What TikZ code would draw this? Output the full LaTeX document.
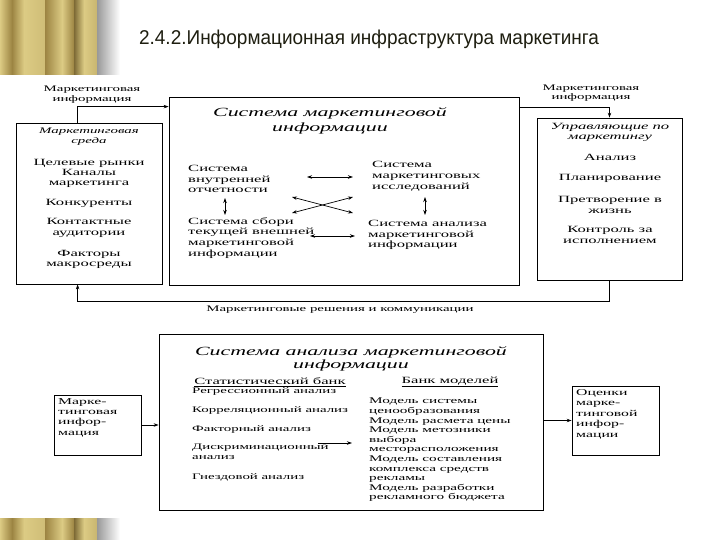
\documentclass[tikz,border=0pt]{standalone}
\usepackage{fontspec}
\setmainfont{Liberation Serif}
\newfontfamily\wf[FakeStretch=1.75]{Liberation Serif}
\newfontfamily\tf[FakeStretch=0.95]{Liberation Sans}
\usetikzlibrary{arrows.meta}
\newcommand\fsz[2]{\fontsize{#1}{#2}\selectfont}
\definecolor{goldL}{HTML}{DCCB84}
\definecolor{goldD}{HTML}{9C8442}
\definecolor{ttl}{HTML}{1E1E10}
\begin{document}
\begin{tikzpicture}[x=1pt,y=-1pt,
  box/.style={draw, line width=0.8pt, inner sep=0, rectangle},
  t/.style={inner sep=0, align=center, font=\wf\fsz{9.5}{10.8}},
  tl/.style={inner sep=0, align=left, anchor=west, font=\wf\fsz{9.5}{10.8}},
  arr/.style={line width=0.7pt, -{Stealth[length=5pt,width=3.5pt]}},
  dbl/.style={line width=0.7pt, {Stealth[length=5pt,width=3.5pt]}-{Stealth[length=5pt,width=3.5pt]}}]
\useasboundingbox (0,0) rectangle (720,540);
\fill[white] (0,0) rectangle (720,540);
% decorative gold bars
\foreach \ya/\yb in {0/75, 518/540}{
  \fill[left color=goldL,right color=goldD] (0,\ya) rectangle (12,\yb);
  \fill[left color=goldD,right color=goldL] (12,\ya) rectangle (24,\yb);
  \fill[left color=goldL,right color=goldL!80!goldD] (24,\ya) rectangle (45,\yb);
  \fill[left color=goldD,right color=goldL] (45,\ya) rectangle (62,\yb);
  \fill[left color=goldL,right color=goldD] (62,\ya) rectangle (74,\yb);
  \fill[left color=goldD!80!black,right color=goldL] (74,\ya) rectangle (84,\yb);
  \fill[left color=goldL,right color=goldL!70!goldD] (84,\ya) rectangle (97,\yb);
  \fill[left color=gray!80,right color=white] (97,\ya) rectangle (120,\yb);
}
% title
\node[inner sep=0, text=ttl, font=\tf\fsz{20}{24}] (title) at (369,39) {2.4.2.Информационная инфраструктура маркетинга};
% boxes
\node[box, minimum width=146pt, minimum height=161pt] (L) at (89,203.5) {};
\node[box, minimum width=350pt, minimum height=188pt] (C) at (344,191) {};
\node[box, minimum width=145pt, minimum height=162pt] (R) at (609.5,199) {};
\node[box, minimum width=384pt, minimum height=176pt] (B) at (351,422) {};
\node[box, minimum width=87pt, minimum height=60pt] (SL) at (97.5,425) {};
\node[box, minimum width=87pt, minimum height=69pt] (SR) at (615.5,420.5) {};
% top labels
\node[t, font=\wf\fsz{8.5}{9.5}] (lblL) at (92,94.5) {Маркетинговая\\информация};
\node[t, font=\wf\fsz{8.5}{9.5}] (lblR) at (591,93) {Маркетинговая\\информация};
\node[t, font=\wf\fsz{8.5}{9.5}] (lblB) at (340,310) {Маркетинговые решения и коммуникации};
% left box content
\node[t, font=\wf\itshape\fsz{8.5}{10}] (L0) at (89,137) {Маркетинговая\\среда};
\node[t] (L1) at (89,163) {Целевые рынки};
\node[t] (L2) at (89,178.5) {Каналы\\маркетинга};
\node[t] (L3) at (89,203) {Конкуренты};
\node[t] (L4) at (89,228) {Контактные\\аудитории};
\node[t] (L5) at (89,259.5) {Факторы\\макросреды};
% central box content
\node[t, font=\wf\itshape\fsz{12.5}{15}] (C0) at (330,120.5) {Система маркетинговой\\информации};
\node[tl] (C1) at (188,179) {Система\\внутренней\\отчетности};
\node[tl] (C2) at (372,176.5) {Система\\маркетинговых\\исследований};
\node[tl] (C3) at (188,238) {Система сбори\\текущей внешней\\маркетинговой\\информации};
\node[tl] (C4) at (368,235) {Система анализа\\маркетинговой\\информации};
\coordinate (a1) at (307,177); \coordinate (a2) at (353,177);
\coordinate (b1) at (225,198); \coordinate (b2) at (225,215);
\coordinate (c1) at (425,197); \coordinate (c2) at (425,215);
\coordinate (d1) at (292,197); \coordinate (d2) at (353,213);
\coordinate (e1) at (292,213); \coordinate (e2) at (353,197);
\coordinate (f1) at (310,236); \coordinate (f2) at (355,236);
\draw[dbl] (a1) -- (a2);
\draw[dbl] (b1) -- (b2);
\draw[dbl] (c1) -- (c2);
\draw[dbl] (d1) -- (d2);
\draw[dbl] (e1) -- (e2);
\draw[dbl] (f1) -- (f2);
% right box content
\node[t, font=\wf\itshape\fsz{9.5}{10}] (R0) at (610,132) {Управляющие по\\маркетингу};
\node[t] (R1) at (610,157) {Анализ};
\node[t] (R2) at (610,178) {Планирование};
\node[t] (R3) at (610,205) {Претворение в\\жизнь};
\node[t] (R4) at (610,235) {Контроль за\\исполнением};
% main connectors
\draw[arr] ([xshift=62pt]L.north west) |- ([yshift=-10pt]C.north west);
\draw[arr] ([yshift=-11pt]C.north east) -| (R.north);
\draw[arr] (R.south) -- ++(0,21) -| ([xshift=62pt]L.south west);
% bottom box content
\node[t, font=\wf\itshape\fsz{12.5}{12.5}] (B0) at (351,359) {Система анализа маркетинговой\\информации};
\node[t] (B1) at (270,382) {\underline{Статистический банк}};
\node[t] (B2) at (450,382) {\underline{Банк моделей}};
\node[tl, font=\wf\fsz{8.5}{10}] (S1) at (192,391) {Регрессионный анализ};
\node[tl, font=\wf\fsz{8.5}{10}] (S2) at (192,410) {Корреляционный анализ};
\node[tl, font=\wf\fsz{8.5}{10}] (S3) at (192,429) {Факторный анализ};
\node[tl, font=\wf\fsz{8.5}{10}] (S4) at (192,452) {Дискриминационный\\анализ};
\node[tl, font=\wf\fsz{8.5}{10}] (S5) at (192,477) {Гнездовой анализ};
\node[tl, font=\wf\fsz{8.7}{9.6}] (M) at (369,450) {Модель системы\\ценообразования\\Модель расмета цены\\Модель метозники\\выбора\\месторасположения\\Модель составления\\комплекса средств\\рекламы\\Модель разработки\\рекламного бюджета};
\coordinate (g1) at (318,443); \coordinate (g2) at (352,443);
\draw[arr] (g1) -- (g2);
% small boxes
\node[tl, font=\wf\fsz{9}{10.3}] (SLt) at (58,417.5) {Марке-\\тинговая\\инфор-\\мация};
\node[tl, font=\wf\fsz{9}{10.5}] (SRt) at (576,414) {Оценки\\марке-\\тинговой\\инфор-\\мации};
\draw[arr] (SL.east) -- (SL.east -| B.west);
\draw[arr] (B.east |- SR.west) -- (SR.west);
\end{tikzpicture}
\end{document}
